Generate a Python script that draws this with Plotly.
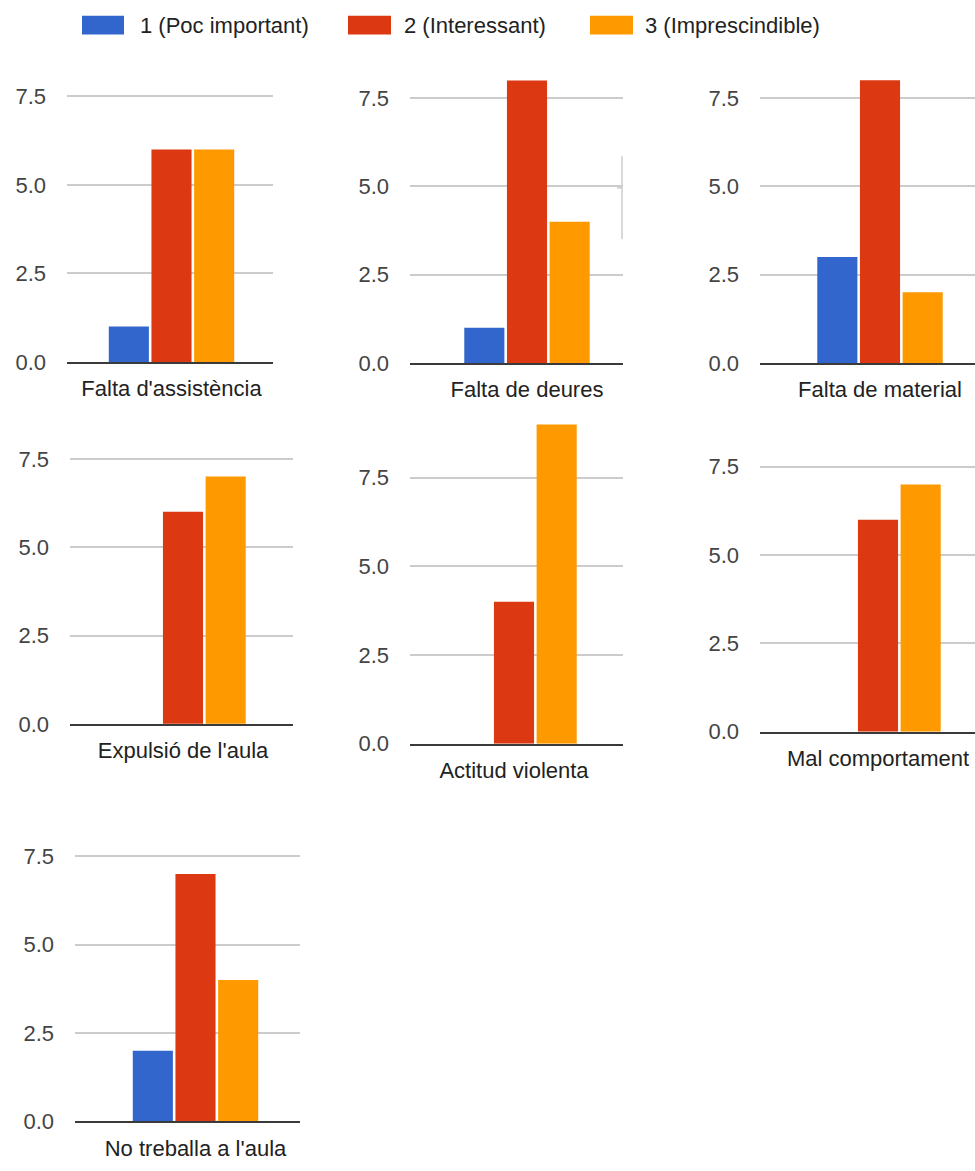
import plotly.graph_objects as go

# Survey answers: how important each type of incident is (count of answers)
categories = [
    "Falta d'assistència",
    "Falta de deures",
    "Falta de material",
    "Expulsió de l'aula",
    "Actitud violenta",
    "Mal comportament",
    "No treballa a l'aula",
]
series_names = ["1 (Poc important)", "2 (Interessant)", "3 (Imprescindible)"]
poc_important = [1, 1, 3, 0, 0, 0, 2]
interessant = [6, 8, 8, 6, 4, 6, 7]
imprescindible = [6, 4, 2, 7, 9, 7, 4]
y_tick_values = [0, 2.5, 5, 7.5]
y_tick_labels = ["0.0", "2.5", "5.0", "7.5"]

series_values = [poc_important, interessant, imprescindible]
colors = ["#3366cc", "#dc3912", "#ff9900"]

W, H = 975, 1171
FONT = "Liberation Sans, Arial, sans-serif"
PX_PER_CAT = 200   # pixels covered by one category slot
Y_TOP = 9.2        # upper end of every value axis

# Small-multiple frames (pixels): left, right, group centre, baseline y, y of 7.5 line
frames = [
    (67, 273, 171.5, 366, 97.5),
    (410, 623, 527, 367, 99.3),
    (760, 975, 880, 367, 99.0),
    (70, 293, 183, 732, 464),
    (410, 623, 514, 752, 483),
    (760, 975, 878, 740, 472),
    (75, 300, 195.5, 1134, 866),
]

fig = go.Figure()
layout = {}

for i, cat in enumerate(categories):
    n = i + 1
    xa, ya = f"x{n}", f"y{n}"
    for s, name in enumerate(series_names):
        fig.add_trace(go.Bar(
            x=[cat], y=[series_values[s][i]], name=name,
            marker=dict(color=colors[s], line=dict(width=0)),
            xaxis=xa, yaxis=ya, showlegend=False,
        ))

    left, right, centre, base, y75 = frames[i]
    scale = (base - y75) / 7.5
    top = base - Y_TOP * scale
    key = "" if n == 1 else str(n)
    layout[f"xaxis{key}"] = dict(
        domain=[left / W, right / W], anchor=ya, type="category",
        range=[(left - centre) / PX_PER_CAT, (right - centre) / PX_PER_CAT],
        showgrid=False, zeroline=False, showline=True,
        linecolor="#3a3a3a", linewidth=2, ticks="",
        tickfont=dict(family=FONT, size=22, color="#222222"),
        ticklabelstandoff=6, fixedrange=True,
    )
    layout[f"yaxis{key}"] = dict(
        domain=[1 - base / H, 1 - top / H], anchor=xa,
        range=[0, Y_TOP], tickvals=y_tick_values, ticktext=y_tick_labels,
        showgrid=True, gridcolor="#cccccc", gridwidth=1.5,
        zeroline=False, showline=False, ticks="",
        tickfont=dict(family=FONT, size=22, color="#444444"),
        ticklabelstandoff=20, fixedrange=True,
    )

# Legend drawn as colour swatches plus labels across the top
swatches = [(82, 124, 138), (348, 391, 402), (590, 633, 643)]
shapes = []
annotations = []
for (x0, x1, tx), name, col in zip(swatches, series_names, colors):
    shapes.append(dict(
        type="rect", xref="paper", yref="paper",
        x0=x0 / W, x1=x1 / W, y0=1 - 35 / H, y1=1 - 16 / H,
        fillcolor=col, line=dict(width=0),
    ))
    annotations.append(dict(
        xref="paper", yref="paper", x=tx / W, y=1 - 26 / H,
        xanchor="left", yanchor="middle", showarrow=False, text=name,
        font=dict(family=FONT, size=22, color="#222222"),
    ))

# Thin bracket at the right of the second panel
shapes.append(dict(
    type="line", xref="paper", yref="paper",
    x0=622 / W, x1=622 / W, y0=1 - 158 / H, y1=1 - 242 / H,
    line=dict(color="#cccccc", width=1.5),
))
shapes.append(dict(
    type="line", xref="paper", yref="paper",
    x0=617 / W, x1=622 / W, y0=1 - 190 / H, y1=1 - 190 / H,
    line=dict(color="#cccccc", width=1.5),
))

fig.update_layout(
    width=W, height=H, autosize=False,
    margin=dict(l=0, r=0, t=0, b=0),
    paper_bgcolor="white", plot_bgcolor="rgba(0,0,0,0)",
    barmode="group", bargap=0.36, bargroupgap=0.06,
    shapes=shapes, annotations=annotations,
    font=dict(family=FONT),
    **layout,
)

fig.write_html("out.html")
